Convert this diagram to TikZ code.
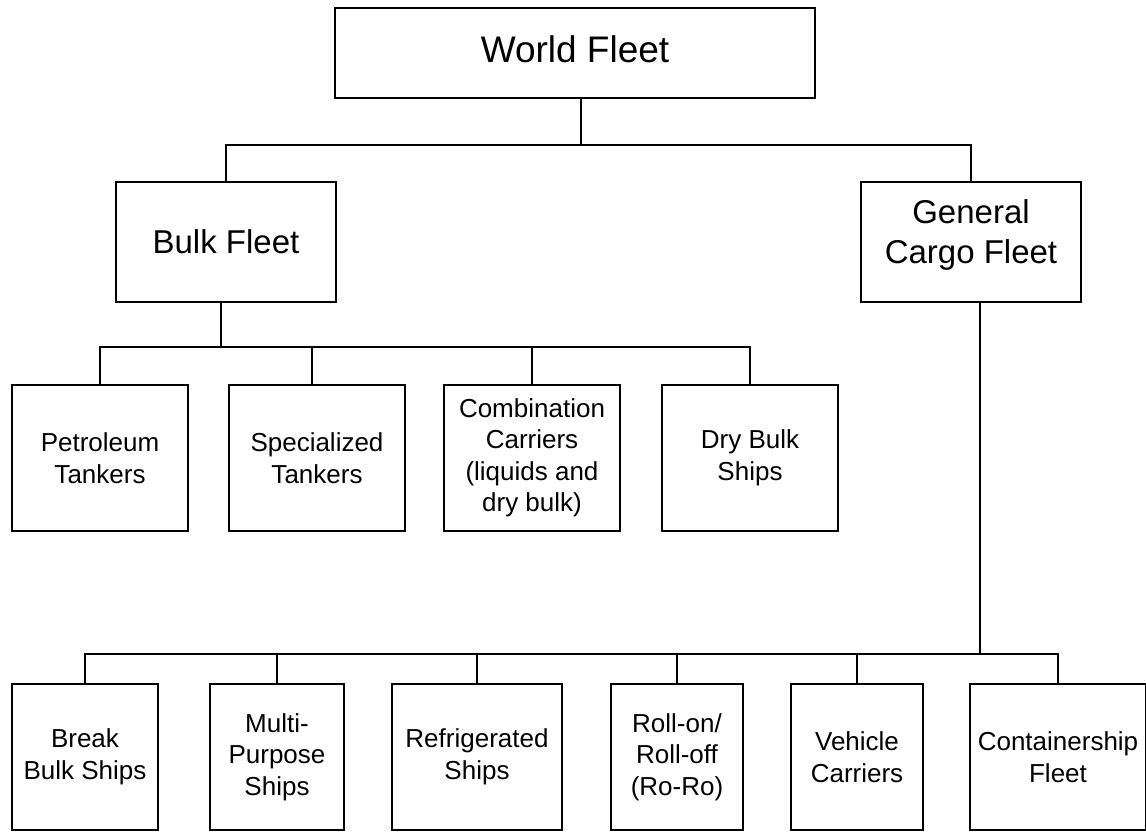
\documentclass[tikz,border=0pt]{standalone}
\usepackage{fontspec}
\setmainfont{Liberation Sans}
\begin{document}
\begin{tikzpicture}[x=1pt,y=1pt,
  box/.style={draw=black, line width=2.4pt, rectangle, inner sep=0pt, align=center, fill=white},
  big/.style={font=\fontsize{37}{44}\selectfont},
  mid/.style={font=\fontsize{33}{40}\selectfont},
  small/.style={font=\fontsize{26}{31.5}\selectfont},
  conn/.style={draw=black, line width=2.4pt, line join=miter}]
\useasboundingbox (0,0) rectangle (1146,-831);
% top level
\node[box,big,minimum width=480pt,minimum height=90pt,text depth=8pt] (wf) at (575,-53) {World Fleet};
\node[box,mid,minimum width=220pt,minimum height=120pt] (bf) at (226,-242) {Bulk Fleet};
\node[box,mid,minimum width=220pt,minimum height=120pt,text depth=20pt] (gcf) at (971,-242) {General\\Cargo Fleet};
% bulk row
\node[box,small,minimum width=176pt,minimum height=146pt] (pt) at (100,-458) {Petroleum\\Tankers};
\node[box,small,minimum width=176pt,minimum height=146pt] (st) at (317,-458) {Specialized\\Tankers};
\node[box,small,minimum width=176pt,minimum height=146pt] (cc) at (532,-458) {Combination\\Carriers\\(liquids and\\dry bulk)};
\node[box,small,minimum width=176pt,minimum height=146pt] (db) at (750,-458) {Dry Bulk\\Ships};
% general cargo row
\node[box,small,minimum width=146pt,minimum height=146pt] (bk) at (85,-757) {Break\\Bulk Ships};
\node[box,small,minimum width=134pt,minimum height=146pt] (mp) at (277,-757) {Multi-\\Purpose\\Ships};
\node[box,small,minimum width=170pt,minimum height=146pt] (rf) at (477,-757) {Refrigerated\\Ships};
\node[box,small,minimum width=132pt,minimum height=146pt] (ro) at (677,-757) {Roll-on/\\Roll-off\\(Ro-Ro)};
\node[box,small,minimum width=132pt,minimum height=146pt] (vc) at (857,-757) {Vehicle\\Carriers};
\node[box,small,minimum width=176pt,minimum height=146pt] (ct) at (1058,-757) {Containership\\Fleet};
% bus coordinates
\coordinate (tbus) at (581,-145);
\coordinate (bbus) at (221,-347);
\coordinate (gbus) at (980,-654);
\coordinate (stt) at ([xshift=-5pt]st.north);
% connectors
\draw[conn] (wf.south -| tbus) -- (tbus);
\draw[conn] (bf.north) |- (tbus) -| (gcf.north);
\draw[conn] (bf.south -| bbus) -- (bbus);
\draw[conn] (pt.north) |- (bbus) -| (db.north);
\draw[conn] (stt) -- (stt |- bbus);
\draw[conn] (cc.north) -- (cc.north |- bbus);
\draw[conn] (gcf.south -| gbus) -- (gbus);
\draw[conn] (bk.north) |- (gbus) -| (ct.north);
\draw[conn] (mp.north) -- (mp.north |- gbus);
\draw[conn] (rf.north) -- (rf.north |- gbus);
\draw[conn] (ro.north) -- (ro.north |- gbus);
\draw[conn] (vc.north) -- (vc.north |- gbus);
\end{tikzpicture}
\end{document}
